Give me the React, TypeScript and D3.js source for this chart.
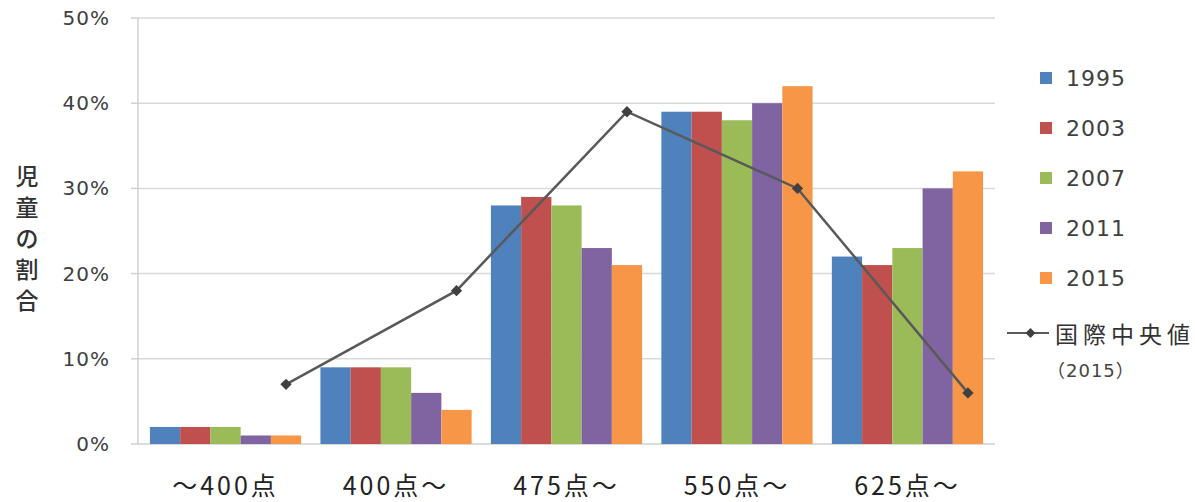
import React from "react";
import * as d3 from "d3";

const categories = ["～400点", "400点～", "475点～", "550点～", "625点～"];
const seriesNames = ["1995", "2003", "2007", "2011", "2015"];
const s1995 = [2, 9, 28, 39, 22];
const s2003 = [2, 9, 29, 39, 21];
const s2007 = [2, 9, 28, 38, 23];
const s2011 = [1, 6, 23, 40, 30];
const s2015 = [1, 4, 21, 42, 32];
const median2015 = [7, 18, 39, 30, 6];
const yTicks = [0, 10, 20, 30, 40, 50];
const colors = ["#4F81BD", "#C0504D", "#9BBB59", "#8064A2", "#F79646"];
const lineLabel = "国際中央値";
const lineLabel2 = "（2015）";
const yTitle = "児童の割合";

const W = 1195;
const H = 502;
const FONT = "'Noto Sans CJK JP', 'Noto Sans', sans-serif";

export default function App() {
  const series = [s1995, s2003, s2007, s2011, s2015];
  const left = 138;
  const right = 995;
  const y = d3.scaleLinear().domain([0, 50]).range([444, 18]);
  const x0 = d3
    .scaleBand<string>()
    .domain(categories)
    .range([left, right])
    .paddingInner(0.113)
    .paddingOuter(0.07);
  const x1 = d3
    .scaleBand<string>()
    .domain(seriesNames)
    .range([0, x0.bandwidth()]);

  const linePts: [number, number][] = categories.map((c, i) => [
    (x0(c) as number) + (x1("2015") as number) + x1.bandwidth() / 2,
    y(median2015[i]),
  ]);
  const lineGen = d3.line();

  return (
    <svg
      width={W}
      height={H}
      style={{ position: "absolute", left: 0, top: 0, background: "#fff" }}
      fontFamily={FONT}
    >
      {yTicks
        .filter((t) => t > 0)
        .map((t) => (
          <line
            key={t}
            x1={left}
            x2={right}
            y1={y(t)}
            y2={y(t)}
            stroke="#d9d9d9"
            strokeWidth={1.5}
          />
        ))}
      <line x1={left} x2={left} y1={y(50)} y2={y(0)} stroke="#d0d0d0" strokeWidth={1.5} />
      <line x1={left} x2={right} y1={y(0)} y2={y(0)} stroke="#d0d0d0" strokeWidth={1.5} />
      {yTicks.map((t) => (
        <g key={t}>
          <line x1={left - 7} x2={left} y1={y(t)} y2={y(t)} stroke="#d0d0d0" strokeWidth={1.5} />
          <text
            x={110}
            y={y(t)}
            textAnchor="end"
            dominantBaseline="central"
            fontSize={20}
            letterSpacing={1}
            fill="#404040"
            fontFamily="'DejaVu Sans', sans-serif"
          >
            {t}%
          </text>
        </g>
      ))}
      {Array.from(yTitle).map((ch, i) => (
        <text
          key={i}
          x={27}
          y={175 + i * 31}
          textAnchor="middle"
          dominantBaseline="central"
          fontSize={23}
          fontWeight={500}
          fill="#333"
        >
          {ch}
        </text>
      ))}
      {categories.map((c, i) => (
        <g key={c} transform={`translate(${x0(c)},0)`}>
          {series.map((s, j) => (
            <rect
              key={j}
              x={x1(seriesNames[j])}
              y={y(s[i])}
              width={x1.bandwidth()}
              height={y(0) - y(s[i])}
              fill={colors[j]}
            />
          ))}
        </g>
      ))}
      {categories.map((c) => (
        <text
          key={c}
          x={(x0(c) as number) + x0.bandwidth() / 2}
          y={484}
          textAnchor="middle"
          dominantBaseline="central"
          fontSize={25}
          letterSpacing={3}
          fill="#222"
        >
          {c}
        </text>
      ))}
      <path d={lineGen(linePts) || ""} fill="none" stroke="#595959" strokeWidth={2.5} />
      {linePts.map((p, i) => (
        <rect
          key={i}
          x={p[0] - 4}
          y={p[1] - 4}
          width={8}
          height={8}
          fill="#404040"
          transform={`rotate(45 ${p[0]} ${p[1]})`}
        />
      ))}
      {seriesNames.map((n, j) => (
        <g key={n} transform={`translate(1040, ${78 + j * 50})`}>
          <rect x={0} y={-6} width={12} height={12} fill={colors[j]} />
          <text x={26} y={0} dominantBaseline="central" fontSize={22} letterSpacing={1} fill="#404040" fontFamily="'DejaVu Sans', sans-serif">
            {n}
          </text>
        </g>
      ))}
      <g transform="translate(1007, 333)">
        <line x1={0} x2={42} y1={0} y2={0} stroke="#595959" strokeWidth={2} />
        <rect x={20} y={-3.5} width={7} height={7} fill="#404040" transform="rotate(45 23.5 0)" />
        <text x={48} y={0} dominantBaseline="central" fontSize={23} letterSpacing={5} fill="#333">
          {lineLabel}
        </text>
        <text x={40} y={37} dominantBaseline="central" fontSize={18} letterSpacing={1} fill="#444" fontFamily="'DejaVu Sans', 'Noto Sans CJK JP', sans-serif">
          {lineLabel2}
        </text>
      </g>
    </svg>
  );
}
